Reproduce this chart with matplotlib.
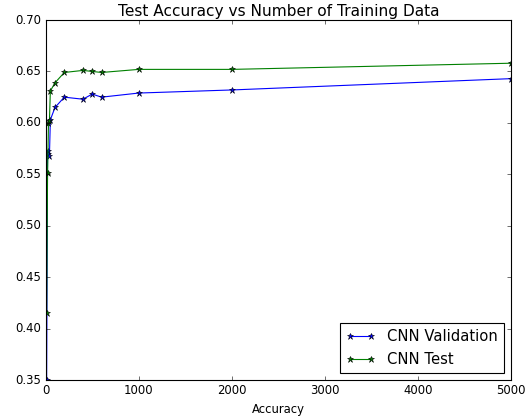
import matplotlib
matplotlib.use("Agg")
import matplotlib.pyplot as plt

# ----- DATA -----
n_train = [10, 20, 30, 40, 50, 100, 200, 400, 500, 600, 1000, 2000, 5000]
cnn_val = [0.350, 0.573, 0.570, 0.568, 0.603, 0.615, 0.625, 0.623, 0.628, 0.625, 0.629, 0.632, 0.643]
cnn_test = [0.415, 0.551, 0.600, 0.602, 0.631, 0.639, 0.649, 0.651, 0.650, 0.649, 0.652, 0.652, 0.658]

plt.style.use("classic")
plt.rcParams["font.size"] = 10.5

# original figure looks rendered at a lower dpi, so text/pads scale down
dpi = 80
fig = plt.figure(figsize=(529 / dpi, 417 / dpi), dpi=dpi, facecolor="white")
ax = fig.add_axes([0.0864, 0.0887, 0.8796, 0.8633])

ax.plot(n_train, cnn_val, "b-*", label="CNN Validation")
ax.plot(n_train, cnn_test, "g-*", label="CNN Test")

ax.set_xlim(0, 5000)
ax.set_ylim(0.35, 0.70)
ax.set_title("Test Accuracy vs Number of Training Data", fontsize=13.8, pad=4)
ax.set_xlabel("Accuracy")
ax.legend(loc="lower right", fontsize=13.3)

fig.savefig("out.png", dpi=dpi, facecolor="white")
